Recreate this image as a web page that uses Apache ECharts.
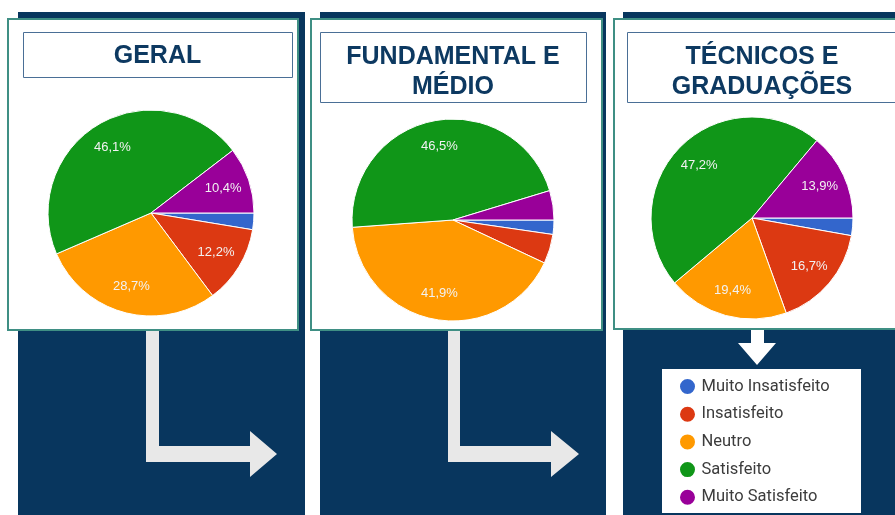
<!DOCTYPE html>
<html lang="pt-BR">
<head>
<meta charset="utf-8">
<title>Satisfação</title>
<script src="https://cdn.jsdelivr.net/npm/echarts@6/dist/echarts.min.js"></script>
<style>
  html, body { margin: 0; padding: 0; background: #ffffff; }
  #chart { width: 895px; height: 515px; }
</style>
</head>
<body>
<div id="chart"></div>
<script>
// Categorias de satisfação (ordem das fatias, a partir das 3 horas, sentido horário)
const categories = ['Muito Insatisfeito', 'Insatisfeito', 'Neutro', 'Satisfeito', 'Muito Satisfeito'];
const sliceColors = ['#3366cc', '#dc3912', '#ff9900', '#109618', '#990099'];

// Percentuais por grupo
const geral = [2.6, 12.2, 28.7, 46.1, 10.4];
const fundamentalMedio = [2.3, 4.7, 41.9, 46.5, 4.7];
const tecnicosGraduacoes = [2.8, 16.7, 19.4, 47.2, 13.9];

const panelTitles = ['GERAL', 'FUNDAMENTAL E\nMÉDIO', 'TÉCNICOS E\nGRADUAÇÕES'];
const panelValues = [geral, fundamentalMedio, tecnicosGraduacoes];

// Layout dos painéis
const NAVY = '#08365e';
const TEAL = '#3f8f84';
const BOX = '#4a6f96';
const panels = [
  { navy: [18, 12, 287, 503], card: [8, 19, 290, 311], box: [23, 32, 269, 45], titleX: 157.5, titleY: 56, pie: [151, 213], r: 103 },
  { navy: [320, 12, 286, 503], card: [311, 19, 291, 311], box: [320, 32, 266, 70], titleX: 453, titleY: 72, pie: [453, 220], r: 101 },
  { navy: [623, 12, 290, 503], card: [614, 19, 300, 310], box: [627, 32, 280, 70], titleX: 762, titleY: 72, pie: [752, 218], r: 101 }
];

const chart = echarts.init(document.getElementById('chart'), null, { renderer: 'canvas' });

const graphics = [];
panels.forEach((p, i) => {
  graphics.push({ type: 'rect', z: 0, shape: { x: p.navy[0], y: p.navy[1], width: p.navy[2], height: p.navy[3] }, style: { fill: NAVY } });
  graphics.push({ type: 'rect', z: 1, shape: { x: p.card[0], y: p.card[1], width: p.card[2], height: p.card[3] }, style: { fill: '#ffffff', stroke: TEAL, lineWidth: 2 } });
  graphics.push({ type: 'rect', z: 1, shape: { x: p.box[0] + 0.5, y: p.box[1] + 0.5, width: p.box[2], height: p.box[3] }, style: { fill: '#ffffff', stroke: BOX, lineWidth: 1 } });
  graphics.push({
    type: 'text', z: 1,
    style: {
      text: panelTitles[i], x: p.titleX, y: p.titleY,
      textAlign: 'center', textVerticalAlign: 'middle',
      fontFamily: '"Liberation Sans", Arial, sans-serif', fontWeight: 'bold', fontSize: 25,
      lineHeight: 30, fill: '#0d3961'
    }
  });
});

// Setas
graphics.push({
  type: 'polygon', z: 1,
  shape: { points: [[146, 331], [159, 331], [159, 446], [250, 446], [250, 431], [277, 454], [250, 477], [250, 462], [146, 462]] },
  style: { fill: '#e8e8e8' }
});
graphics.push({
  type: 'polygon', z: 1,
  shape: { points: [[448, 331], [460, 331], [460, 446], [551, 446], [551, 431], [579, 454], [551, 477], [551, 462], [448, 462]] },
  style: { fill: '#e8e8e8' }
});
graphics.push({
  type: 'polygon', z: 1,
  shape: { points: [[751, 330], [764, 330], [764, 343], [776, 343], [757, 365], [738, 343], [751, 343]] },
  style: { fill: '#ffffff' }
});

// Caixa da legenda
graphics.push({ type: 'rect', z: 1, shape: { x: 662, y: 369, width: 199, height: 144 }, style: { fill: '#ffffff' } });

function pieData(values) {
  return categories.map((name, k) => ({ name: name, value: values[k], itemStyle: { color: sliceColors[k] } }));
}

const fmt = (params) => params.value < 5 ? '' : params.value.toFixed(1).replace('.', ',') + '%';

const series = [];
// Fatias
panels.forEach((p, i) => {
  series.push({
    type: 'pie', z: 2,
    center: p.pie, radius: p.r,
    startAngle: 0, clockwise: true,
    silent: true, animation: false,
    label: { show: false }, labelLine: { show: false },
    itemStyle: { borderColor: '#ffffff', borderWidth: 1 },
    emphasis: { disabled: true },
    data: pieData(panelValues[i])
  });
});
// Rótulos percentuais (anel transparente para posicionar o texto mais perto da borda)
panels.forEach((p, i) => {
  series.push({
    type: 'pie', z: 3,
    center: p.pie, radius: [p.r * 0.42, p.r],
    startAngle: 0, clockwise: true,
    silent: true, animation: false,
    itemStyle: { color: 'rgba(0,0,0,0)', borderWidth: 0 },
    label: {
      show: true, position: 'inside', formatter: fmt,
      color: '#f2f2f2', fontSize: 13, fontFamily: '"Liberation Sans", Arial, sans-serif'
    },
    labelLine: { show: false },
    emphasis: { disabled: true },
    data: categories.map((name, k) => ({ name: name, value: panelValues[i][k] }))
  });
});

chart.setOption({
  backgroundColor: '#ffffff',
  animation: false,
  graphic: { elements: graphics },
  legend: {
    z: 10,
    orient: 'vertical',
    left: 678, top: 377,
    padding: 0,
    itemWidth: 18, itemHeight: 17, itemGap: 8.7,
    icon: 'circle',
    selectedMode: false,
    textStyle: { fontFamily: 'Roboto, sans-serif', fontSize: 16.5, color: '#3c3c3c' },
    data: categories.map((name, k) => ({ name: name, itemStyle: { color: sliceColors[k] } }))
  },
  series: series
});
</script>
</body>
</html>
